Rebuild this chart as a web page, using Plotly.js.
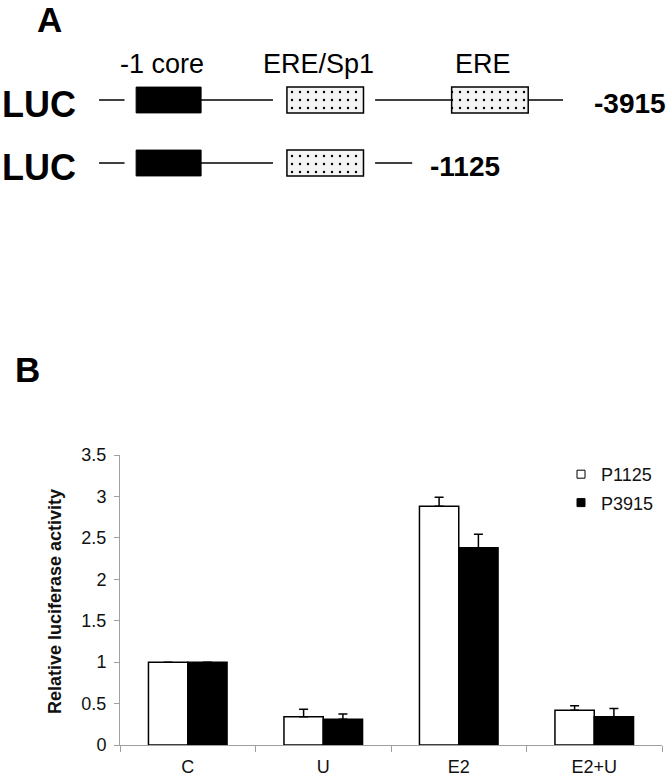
<!DOCTYPE html>
<html>
<head>
<meta charset="utf-8">
<script src="https://cdn.plot.ly/plotly-3.0.1.min.js"></script>
<style>
  html, body { margin: 0; padding: 0; background: #fff; }
  #grafico { width: 672px; height: 782px; }
</style>
</head>
<body>
<div id="grafico"></div>
<script>
// Panel A: promoter constructs (schematic units, 0 = start of backbone)
const constructs = ['-3915', '-1125'];
const constructRows = [1, 2];
const elementNames = ['-1 core', 'ERE/Sp1', 'ERE'];
const elementStart = [8, 40.5, 76];
const elementEnd = [22, 57, 92.5];
// elements present in each construct (index into elementNames)
const constructElements = [[0, 1, 2], [0, 1]];
// backbone line pieces of each construct, [start, end]
const backbones = [
  [[0, 5.5], [22, 37.5], [59.5, 76], [92.5, 100]],
  [[0, 5.5], [22, 37.5], [59.5, 67.5]]
];

// Panel B: luciferase assay
const categories = ['C', 'U', 'E2', 'E2+U'];
const p1125 = [1, 0.34, 2.88, 0.42];
const p1125Err = [0, 0.09, 0.11, 0.055];
const p3915 = [1, 0.31, 2.38, 0.34];
const p3915Err = [0, 0.065, 0.165, 0.10];
const yTicks = [0, 0.5, 1, 1.5, 2, 2.5, 3, 3.5];

const FUENTE = 'Arial, "Liberation Sans", sans-serif';
const ALTO_CAJA = 0.41;

// --- schematic traces ---
const lineaX = [];
const lineaY = [];
backbones.forEach((piezas, i) => {
  piezas.forEach(p => {
    lineaX.push(p[0], p[1], null);
    lineaY.push(constructRows[i], constructRows[i], null);
  });
});

const coreY = [], coreBase = [], coreLen = [];
const siteY = [], siteBase = [], siteLen = [];
constructElements.forEach((lista, i) => {
  lista.forEach(e => {
    if (e === 0) {
      coreY.push(constructRows[i]); coreBase.push(elementStart[e]); coreLen.push(elementEnd[e] - elementStart[e]);
    } else {
      siteY.push(constructRows[i]); siteBase.push(elementStart[e]); siteLen.push(elementEnd[e] - elementStart[e]);
    }
  });
});

const trazaLinea = {
  x: lineaX, y: lineaY, xaxis: 'x2', yaxis: 'y2',
  mode: 'lines', line: { color: '#000', width: 1.5 },
  showlegend: false, hoverinfo: 'skip'
};

const trazaCore = {
  type: 'bar', orientation: 'h', xaxis: 'x2', yaxis: 'y2',
  y: coreY, x: coreLen, base: coreBase,
  width: ALTO_CAJA, offset: -ALTO_CAJA / 2,
  marker: { color: '#000', line: { color: '#000', width: 1 } },
  showlegend: false, hoverinfo: 'skip'
};

const trazaSitios = {
  type: 'bar', orientation: 'h', xaxis: 'x2', yaxis: 'y2',
  y: siteY, x: siteLen, base: siteBase,
  width: ALTO_CAJA, offset: -ALTO_CAJA / 2,
  marker: {
    color: '#f3f3f3',
    line: { color: '#000', width: 1.5 },
    pattern: { shape: '.', fgcolor: '#000', bgcolor: '#f3f3f3', size: 8, solidity: 0.07 }
  },
  showlegend: false, hoverinfo: 'skip'
};

// --- bar chart traces ---
const trazaP1125 = {
  type: 'bar', x: categories, y: p1125,
  marker: { color: '#fff', line: { color: '#000', width: 1.5 } },
  error_y: { type: 'data', symmetric: false, array: p1125Err, arrayminus: p1125Err.map(() => 0),
             color: '#000', thickness: 1.5, width: 4.5 },
  showlegend: false, hoverinfo: 'skip'
};

const trazaP3915 = {
  type: 'bar', x: categories, y: p3915,
  marker: { color: '#000', line: { color: '#000', width: 1.5 } },
  error_y: { type: 'data', symmetric: false, array: p3915Err, arrayminus: p3915Err.map(() => 0),
             color: '#000', thickness: 1.5, width: 4.5 },
  showlegend: false, hoverinfo: 'skip'
};

// legend entries with small square keys
const leyenda1125 = {
  x: [null], y: [null], mode: 'markers', name: 'P1125', legendgroup: 'a',
  marker: { symbol: 'square', size: 8, color: '#fff', line: { color: '#000', width: 1 } }
};
const leyenda3915 = {
  x: [null], y: [null], mode: 'markers', name: 'P3915', legendgroup: 'b',
  marker: { symbol: 'square', size: 8, color: '#000', line: { color: '#000', width: 1 } }
};

// --- annotations ---
const notas = [
  { text: '<b>A</b>', xref: 'paper', yref: 'paper', x: 49.5 / 672, y: 1 - 19 / 782,
    xanchor: 'center', yanchor: 'middle',
    showarrow: false, font: { size: 35, color: '#000', family: FUENTE } },
  { text: '<b>B</b>', xref: 'paper', yref: 'paper', x: 27.5 / 672, y: 1 - 369 / 782,
    xanchor: 'center', yanchor: 'middle',
    showarrow: false, font: { size: 35, color: '#000', family: FUENTE } },
  { text: '<b>Relative luciferase activity</b>', xref: 'paper', yref: 'paper',
    x: 55 / 672, y: 1 - 602 / 782, textangle: -90,
    xanchor: 'center', yanchor: 'middle',
    showarrow: false, font: { size: 18, color: '#111', family: FUENTE } }
];

elementNames.forEach((nombre, e) => {
  notas.push({
    text: nombre, xref: 'x2', yref: 'y2',
    x: (elementStart[e] + elementEnd[e]) / 2, y: constructRows[0], xshift: -7, yshift: 36,
    xanchor: 'center', yanchor: 'middle',
    showarrow: false, font: { size: 27, color: '#000', family: FUENTE }
  });
});

constructs.forEach((nombre, i) => {
  const piezas = backbones[i];
  const fin = piezas[piezas.length - 1][1];
  notas.push({
    text: '<b>LUC</b>', xref: 'x2', yref: 'y2', x: 0, y: constructRows[i],
    xanchor: 'right', yanchor: 'middle', xshift: -21, yshift: -4,
    showarrow: false, font: { size: 36, color: '#000', family: FUENTE }
  });
  notas.push({
    text: '<b>' + nombre + '</b>', xref: 'x2', yref: 'y2', x: fin, y: constructRows[i],
    xanchor: 'left', yanchor: 'middle', xshift: i === 0 ? 29 : 16, yshift: -3,
    showarrow: false, font: { size: 28, color: '#000', family: FUENTE }
  });
});

const layout = {
  width: 672,
  height: 782,
  margin: { l: 0, r: 0, t: 0, b: 0 },
  paper_bgcolor: '#fff',
  plot_bgcolor: 'rgba(0,0,0,0)',
  font: { family: FUENTE, color: '#111' },
  barmode: 'group',
  bargap: 0.42,
  bargroupgap: 0,
  showlegend: true,
  legend: {
    x: 561 / 672, y: 1 - 456 / 782, xanchor: 'left', yanchor: 'top',
    traceorder: 'grouped', tracegroupgap: 2,
    bgcolor: 'rgba(0,0,0,0)', font: { size: 18, color: '#111', family: FUENTE }
  },
  xaxis: {
    domain: [120 / 672, 662 / 672],
    type: 'category',
    showline: true, linecolor: '#a0a0a0', linewidth: 1,
    ticks: 'outside', tickson: 'boundaries', ticklen: 6, tickcolor: '#a0a0a0',
    ticklabelstandoff: 5,
    showgrid: false, zeroline: false,
    tickfont: { size: 18, color: '#111', family: FUENTE }
  },
  yaxis: {
    domain: [1 - 745 / 782, 1 - 455 / 782],
    range: [0, 3.5],
    tickvals: yTicks,
    ticktext: yTicks.map(v => String(v)),
    showline: true, linecolor: '#a0a0a0', linewidth: 1,
    ticks: 'outside', ticklen: 5, tickcolor: '#a0a0a0',
    ticklabelstandoff: 4,
    showgrid: false, zeroline: false,
    tickfont: { size: 18, color: '#111', family: FUENTE }
  },
  xaxis2: {
    domain: [0, 1], anchor: 'y2',
    range: [-21.34, 123.49],
    visible: false, showgrid: false, zeroline: false
  },
  yaxis2: {
    domain: [1 - 200 / 782, 1], anchor: 'x2',
    range: [2.587, -0.587],
    visible: false, showgrid: false, zeroline: false
  },
  annotations: notas
};

Plotly.newPlot('grafico',
  [trazaLinea, trazaCore, trazaSitios, trazaP1125, trazaP3915, leyenda1125, leyenda3915],
  layout,
  { displayModeBar: false, staticPlot: true });
</script>
</body>
</html>
